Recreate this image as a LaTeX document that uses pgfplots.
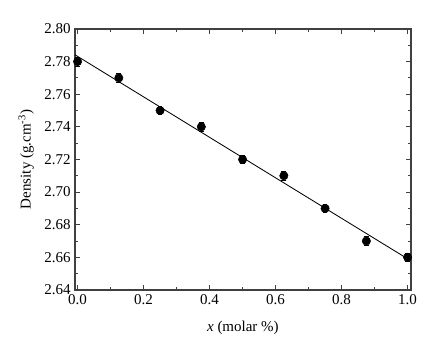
\documentclass[border=0pt]{standalone}
\usepackage{fontspec}
\setmainfont{Liberation Serif}
\usepackage{pgfplots}
\pgfplotsset{compat=1.18}

\begin{document}
\begin{tikzpicture}
\begin{axis}[
    scale only axis,
    width=280pt,
    height=217.5pt,
    xmin=-0.008, xmax=1.01,
    ymin=2.64, ymax=2.80,
    xtick={0,0.2,...,1.0},
    ytick={2.64,2.66,...,2.801},
    minor x tick num=1,
    minor y tick num=1,
    tick align=inside,
    major tick length=4.5pt,
    minor tick length=2.5pt,
    axis line style={line width=1pt, black!75},
    every tick/.style={black!75, line width=0.8pt},
    xticklabel style={/pgf/number format/fixed, /pgf/number format/fixed zerofill, /pgf/number format/precision=1},
    yticklabel style={/pgf/number format/fixed, /pgf/number format/fixed zerofill, /pgf/number format/precision=2},
    /pgf/number format/assume math mode=true,
    tick label style={font=\fontsize{12.5}{14}\selectfont},
    label style={font=\fontsize{12.5}{14}\selectfont},
    xlabel={\textit{x} (molar \%)},
    ylabel={Density (g.cm\textsuperscript{-3})},
    xlabel style={yshift=-7pt},
    ylabel style={yshift=2pt},
    clip=false,
]
\path (rel axis cs:-0.223,-0.188) rectangle (rel axis cs:1.039,1.111);
\addplot[black, line width=0.7pt] coordinates {(-0.008,2.7842) (1.0,2.6591)};
\addplot[only marks, mark=*, mark size=3.5pt, black,
    error bars/.cd, y dir=both, y explicit,
    error bar style={line width=0.7pt},
    error mark options={rotate=90, mark size=2pt, line width=0.7pt}]
coordinates {
(0.000,2.780) +- (0,0.0028)
(0.125,2.770) +- (0,0.0026)
(0.250,2.750) +- (0,0.0026)
(0.375,2.740) +- (0,0.0026)
(0.500,2.720) +- (0,0.0026)
(0.625,2.710) +- (0,0.0026)
(0.750,2.690) +- (0,0.0026)
(0.875,2.670) +- (0,0.0026)
(1.000,2.660) +- (0,0.0026)
};
\end{axis}
\end{tikzpicture}
\end{document}
